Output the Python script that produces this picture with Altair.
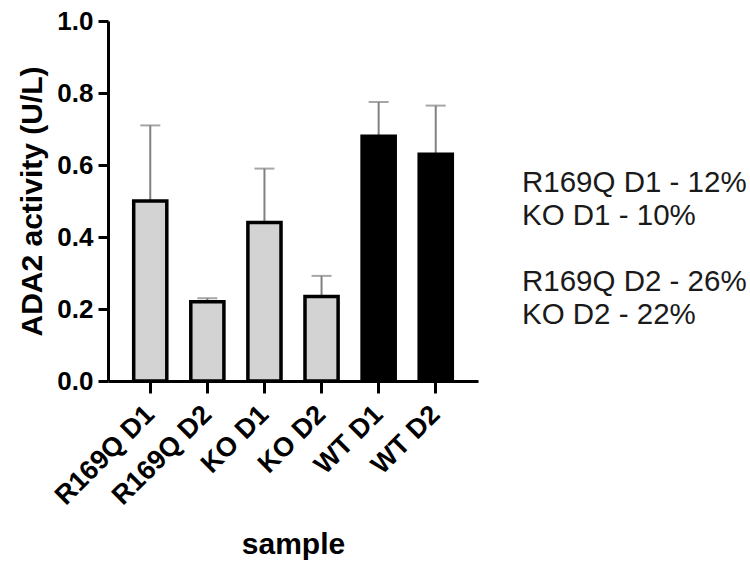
import altair as alt
import pandas as pd

# ADA2 activity per sample, mean and upward error (SD)
samples = ["R169Q D1", "R169Q D2", "KO D1", "KO D2", "WT D1", "WT D2"]
means = [0.50, 0.22, 0.44, 0.235, 0.68, 0.63]
errors = [0.21, 0.01, 0.15, 0.057, 0.095, 0.135]
groups = ["variant", "variant", "variant", "variant", "wt", "wt"]

# residual activity notes shown to the right of the plot, one block per donor
notes_d1 = ["R169Q D1 - 12%", "KO D1 - 10%"]
notes_d2 = ["R169Q D2 - 26%", "KO D2 - 22%"]

df = pd.DataFrame({
    "sample": samples,
    "mean": means,
    "upper": [m + e for m, e in zip(means, errors)],
    "group": groups,
})

FONT = "Liberation Sans"

x_enc = alt.X(
    "sample:N",
    sort=samples,
    scale=alt.Scale(paddingInner=0.42, paddingOuter=0.45),
    axis=alt.Axis(
        title="sample",
        labelAngle=-45,
        labelAlign="right",
        labelBaseline="middle",
        labelPadding=17,
        labelFontSize=27,
        titleFontSize=30,
        titleY=172,
        titleBaseline="alphabetic",
        tickSize=12,
    ),
)

y_scale = alt.Scale(domain=[0, 1], nice=False)

base = alt.Chart(df)

err_rule = base.mark_rule(color="#808080", strokeWidth=2).encode(
    x=x_enc,
    y=alt.Y("mean:Q", scale=y_scale),
    y2="upper:Q",
)

err_cap = base.mark_tick(color="#808080", thickness=2, size=20).encode(
    x=x_enc,
    y=alt.Y("upper:Q", scale=y_scale),
)

bars = base.mark_bar(stroke="black", strokeWidth=3.5).encode(
    x=x_enc,
    y=alt.Y(
        "mean:Q",
        scale=y_scale,
        axis=alt.Axis(
            title="ADA2 activity (U/L)",
            values=[0, 0.2, 0.4, 0.6, 0.8, 1.0],
            format=".1f",
            labelFontSize=26,
            labelPadding=5,
            titleFontSize=30,
            titleX=-67,
            titleY=180,
            titleBaseline="alphabetic",
            titleAngle=270,
            tickSize=10,
        ),
    ),
    color=alt.Color(
        "group:N",
        scale=alt.Scale(domain=["variant", "wt"], range=["#d3d3d3", "#000000"]),
        legend=None,
    ),
)

LINE_H = 33


def note_block(lines, top):
    return alt.Chart(pd.DataFrame({"k": [0]})).mark_text(
        text=lines,
        font=FONT,
        fontSize=29.5,
        lineHeight=LINE_H,
        align="left",
        baseline="alphabetic",
        color="#1a1a1a",
    ).encode(x=alt.value(414), y=alt.value(top))


# second block starts after one empty line
chart = (
    alt.layer(
        err_rule,
        err_cap,
        bars,
        note_block(notes_d1, 171),
        note_block(notes_d2, 171 + 3 * LINE_H),
    )
    .properties(
        width=370,
        height=360,
        autosize=alt.AutoSizeParams(type="none"),
        padding={"left": 108, "top": 21, "right": 272, "bottom": 184},
    )
    .configure_view(stroke=None)
    .configure_axis(
        grid=False,
        domainColor="black",
        domainWidth=3,
        tickColor="black",
        tickWidth=3,
        labelFont=FONT,
        labelFontWeight="bold",
        labelColor="black",
        titleFont=FONT,
        titleFontWeight="bold",
        titleColor="black",
    )
)

chart.save("out.html", embed_options={"renderer": "svg", "actions": False})
